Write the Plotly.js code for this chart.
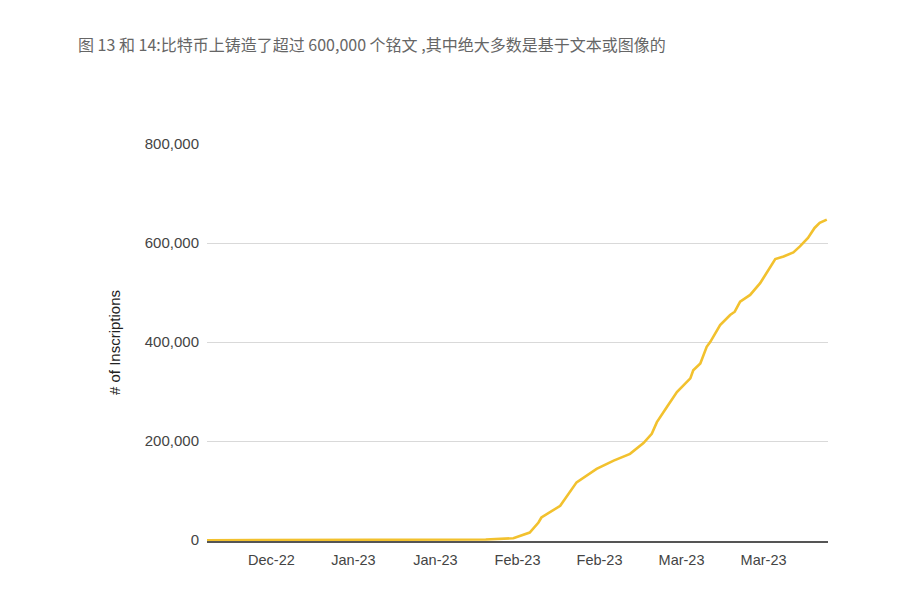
<!DOCTYPE html>
<html>
<head>
<meta charset="utf-8">
<script src="https://cdn.plot.ly/plotly-3.0.1.min.js"></script>
<style>
  html, body { margin: 0; padding: 0; background: #fff; }
  #chart { width: 914px; height: 592px; }
</style>
</head>
<body>
<div id="chart"></div>
<script>
// cumulative inscriptions
const dates = [
  "2022-12-14", "2023-01-01", "2023-01-20", "2023-01-30 14:00",
  "2023-02-04 07:00", "2023-02-07 02:00", "2023-02-08 14:00", "2023-02-09 02:00",
  "2023-02-12 07:00", "2023-02-15 02:00", "2023-02-18 12:00", "2023-02-21 10:00",
  "2023-02-24 05:00", "2023-02-26 12:00", "2023-02-27 22:00", "2023-02-28 19:00",
  "2023-03-02 12:00", "2023-03-04 05:00", "2023-03-06 12:00", "2023-03-07",
  "2023-03-08 05:00", "2023-03-09 07:00", "2023-03-09 22:00",
  "2023-03-11 14:00", "2023-03-13 07:00", "2023-03-14 02:00", "2023-03-15",
  "2023-03-16 17:00", "2023-03-18 10:00", "2023-03-19 19:00", "2023-03-21",
  "2023-03-22 10:00", "2023-03-24 02:00", "2023-03-25 05:00", "2023-03-26 14:00",
  "2023-03-27 17:00", "2023-03-28 14:00", "2023-03-29 19:00"
];
const inscriptions = [
  0, 200, 500, 1500,
  4000, 15400, 35700, 45800,
  69500, 116800, 144000, 160800,
  174400, 196000, 214900, 238400,
  268800, 299200, 326700, 343200,
  356800, 390500, 400600,
  434500, 454700, 461400, 481700,
  495300, 519000, 546000, 567700,
  573000, 581100, 593200, 610300,
  630500, 640700, 647400
];

const xTickVals = ["2022-12-25", "2023-01-08", "2023-01-22", "2023-02-05", "2023-02-19", "2023-03-05", "2023-03-19"];
const xTickText = ["Dec-22", "Jan-23", "Jan-23", "Feb-23", "Feb-23", "Mar-23", "Mar-23"];
const yTickVals = [0, 200000, 400000, 600000, 800000];
const yTickText = ["0", "200,000", "400,000", "600,000", "800,000"];

const titleText = "图 13 和 14:比特币上铸造了超过 600,000 个铭文 ,其中绝大多数是基于文本或图像的";

const trace = {
  type: "scatter",
  mode: "lines",
  x: dates,
  y: inscriptions,
  line: { color: "#F2C12E", width: 2.6 },
  hoverinfo: "x+y"
};

const layout = {
  width: 914,
  height: 592,
  paper_bgcolor: "#fff",
  plot_bgcolor: "#fff",
  showlegend: false,
  margin: { l: 207, r: 86, t: 144, b: 51 },
  title: {
    text: titleText,
    font: { family: "Noto Sans CJK SC, Noto Sans, sans-serif", size: 16, color: "#666" },
    xref: "container", yref: "container",
    x: 78 / 914, xanchor: "left",
    y: 1 - 45 / 592, yanchor: "middle"
  },
  font: { family: "Liberation Sans, Arial, sans-serif", size: 14, color: "#444" },
  xaxis: {
    type: "date",
    range: ["2022-12-14", "2023-03-30"],
    tickvals: xTickVals,
    ticktext: xTickText,
    showgrid: false,
    zeroline: false,
    showline: true,
    linecolor: "#555",
    linewidth: 1.5,
    ticks: "",
    ticklabelstandoff: 5,
    tickfont: { size: 14.5, color: "#444" }
  },
  yaxis: {
    range: [-1600, 800000],
    tickvals: yTickVals,
    ticktext: yTickText,
    showgrid: true,
    gridcolor: "#d9d9d9",
    gridwidth: 1,
    zeroline: false,
    showline: false,
    ticks: "",
    ticklabelstandoff: 7,
    tickfont: { size: 15, color: "#444" },
    title: {
      text: "# of Inscriptions",
      font: { size: 15, color: "#222" },
      standoff: 20
    }
  }
};

Plotly.newPlot("chart", [trace], layout, { displayModeBar: false, staticPlot: true });
</script>
</body>
</html>
